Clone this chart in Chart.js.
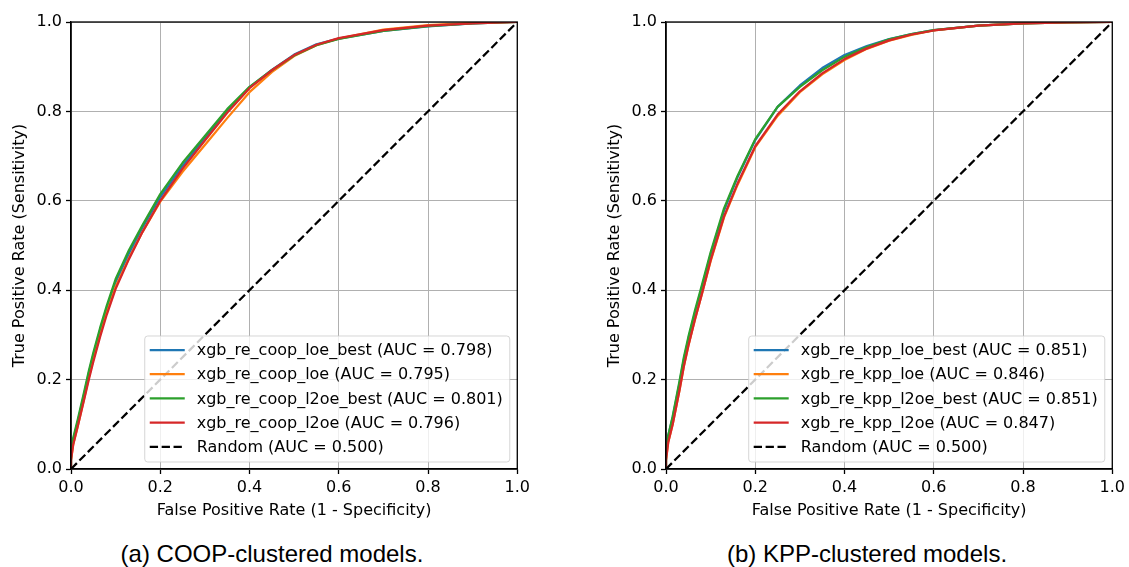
<!DOCTYPE html>
<html>
<head>
<meta charset="utf-8">
<script src="https://cdn.jsdelivr.net/npm/chart.js@4.4.1/dist/chart.umd.min.js"></script>
<style>
  html, body { margin: 0; padding: 0; background: #fff; }
  body { width: 1129px; height: 567px; position: relative; overflow: hidden; }
  canvas { position: absolute; top: 0; }
  #rocCoop { left: 0; }
  #rocKpp { left: 595px; }
  .caption {
    position: absolute; top: 542px;
    font: 24px/24px 'Liberation Sans', Arial, sans-serif;
    color: #000; white-space: nowrap; transform: translateX(-50%);
  }
</style>
</head>
<body>
<canvas id="rocCoop" width="534" height="530"></canvas>
<canvas id="rocKpp" width="534" height="530"></canvas>
<div class="caption" style="left:272px">(a) COOP-clustered models.</div>
<div class="caption" style="left:867px">(b) KPP-clustered models.</div>
<script>
  'use strict';

  // shared false positive rate grid for every ROC curve
  const fpr = [0, 0, 0.005, 0.015, 0.03, 0.04, 0.05, 0.065, 0.08, 0.1, 0.13, 0.16, 0.2, 0.25, 0.3, 0.35, 0.4, 0.45, 0.5, 0.55, 0.6, 0.7, 0.8, 0.9, 1.0];

  // COOP-clustered models (true positive rate)
  const coopLoeBest  = [0, 0.025, 0.065, 0.105, 0.17, 0.215, 0.255, 0.31, 0.36, 0.418, 0.482, 0.54, 0.608, 0.678, 0.74, 0.80, 0.854, 0.893, 0.927, 0.95, 0.963, 0.980, 0.990, 0.997, 1];
  const coopLoe      = [0, 0.02, 0.055, 0.095, 0.16, 0.205, 0.245, 0.30, 0.35, 0.408, 0.472, 0.53, 0.598, 0.665, 0.725, 0.785, 0.843, 0.888, 0.924, 0.948, 0.963, 0.983, 0.993, 0.998, 1];
  const coopL2oeBest = [0, 0.03, 0.07, 0.11, 0.175, 0.22, 0.26, 0.315, 0.365, 0.425, 0.49, 0.545, 0.615, 0.685, 0.745, 0.805, 0.855, 0.892, 0.925, 0.948, 0.962, 0.980, 0.991, 0.997, 1];
  const coopL2oe     = [0, 0.02, 0.055, 0.095, 0.158, 0.2, 0.24, 0.295, 0.345, 0.403, 0.47, 0.53, 0.60, 0.672, 0.735, 0.797, 0.852, 0.892, 0.926, 0.949, 0.964, 0.982, 0.992, 0.997, 1];
  const coopNames = ['xgb_re_coop_loe_best', 'xgb_re_coop_loe', 'xgb_re_coop_l2oe_best', 'xgb_re_coop_l2oe'];
  const coopAuc = [0.798, 0.795, 0.801, 0.796];

  // KPP-clustered models (true positive rate)
  const kppLoeBest  = [0, 0.03, 0.075, 0.115, 0.19, 0.245, 0.29, 0.35, 0.405, 0.48, 0.578, 0.652, 0.736, 0.81, 0.858, 0.897, 0.926, 0.946, 0.962, 0.973, 0.982, 0.992, 0.997, 0.999, 1];
  const kppLoe      = [0, 0.02, 0.06, 0.10, 0.175, 0.23, 0.275, 0.335, 0.39, 0.465, 0.563, 0.635, 0.72, 0.79, 0.843, 0.883, 0.915, 0.94, 0.958, 0.971, 0.981, 0.992, 0.997, 0.999, 1];
  const kppL2oeBest = [0, 0.03, 0.075, 0.118, 0.195, 0.25, 0.295, 0.355, 0.41, 0.485, 0.583, 0.655, 0.738, 0.81, 0.855, 0.892, 0.922, 0.944, 0.961, 0.973, 0.982, 0.992, 0.997, 0.999, 1];
  const kppL2oe     = [0, 0.02, 0.06, 0.10, 0.175, 0.23, 0.275, 0.335, 0.39, 0.467, 0.565, 0.638, 0.722, 0.793, 0.845, 0.885, 0.917, 0.941, 0.959, 0.972, 0.981, 0.992, 0.997, 0.999, 1];
  const kppNames = ['xgb_re_kpp_loe_best', 'xgb_re_kpp_loe', 'xgb_re_kpp_l2oe_best', 'xgb_re_kpp_l2oe'];
  const kppAuc = [0.851, 0.846, 0.851, 0.847];

  const randomLine = [0, 1];
  const randomAuc = 0.5;
  const axisTicks = [0, 0.2, 0.4, 0.6, 0.8, 1.0];

  const seriesColors = ['#1f77b4', '#ff7f0e', '#2ca02c', '#d62728'];

  Chart.defaults.font.family = '"DejaVu Sans", sans-serif';
  Chart.defaults.font.size = 16;
  Chart.defaults.color = '#000';

  // axes frame on all four sides + legend box in the lower right corner
  const frameAndLegend = {
    id: 'frameAndLegend',
    afterDatasetsDraw(chart) {
      const { ctx, chartArea: a } = chart;
      ctx.save();
      ctx.strokeStyle = '#000';
      ctx.lineWidth = 1.3;
      ctx.strokeRect(a.left, a.top, a.right - a.left, a.bottom - a.top);

      const items = chart.data.datasets;
      ctx.font = '16px "DejaVu Sans"';
      const textW = Math.max(...items.map(d => ctx.measureText(d.label).width));
      const w = 5 + 35 + 12 + textW + 7;
      const h = 126;
      const x0 = a.right - 7.5 - w;
      const y0 = a.bottom - 7 - h;

      ctx.beginPath();
      ctx.roundRect(x0, y0, w, h, 3);
      ctx.fillStyle = 'rgba(255,255,255,0.8)';
      ctx.fill();
      ctx.strokeStyle = 'rgba(204,204,204,0.8)';
      ctx.lineWidth = 1;
      ctx.stroke();

      items.forEach((d, i) => {
        const y = y0 + 14 + i * 24.2;
        ctx.beginPath();
        ctx.setLineDash(d.borderDash || []);
        ctx.strokeStyle = d.borderColor;
        ctx.lineWidth = d.borderWidth;
        ctx.moveTo(x0 + 5, y);
        ctx.lineTo(x0 + 40, y);
        ctx.stroke();
        ctx.setLineDash([]);
        ctx.fillStyle = '#000';
        ctx.textAlign = 'left';
        ctx.textBaseline = 'middle';
        ctx.fillText(d.label, x0 + 52, y + 1);
      });
      ctx.restore();
    }
  };

  function axisOptions(titleText, isX) {
    return {
      type: 'linear',
      min: 0,
      max: 1,
      afterBuildTicks: s => { s.ticks = axisTicks.map(value => ({ value })); },
      afterFit: s => {
        if (isX) s.height = 61; else s.width = 71;
      },
      ticks: {
        callback: v => v.toFixed(1),
        padding: isX ? 4 : 4,
        color: '#000',
        maxRotation: 0,
        autoSkip: false
      },
      grid: {
        color: '#b0b0b0',
        lineWidth: 1,
        tickColor: '#000',
        tickLength: 5,
        tickWidth: 1.3
      },
      border: { color: '#000', width: 1.3 },
      title: {
        display: true,
        text: titleText,
        color: '#000',
        padding: isX ? { top: 0, bottom: 10 } : { top: 10, bottom: 0 }
      }
    };
  }

  function buildRoc(canvasId, names, auc, series) {
    const datasets = series.map((tpr, i) => ({
      label: `${names[i]} (AUC = ${auc[i].toFixed(3)})`,
      data: fpr.map((x, j) => ({ x, y: tpr[j] })),
      borderColor: seriesColors[i],
      borderWidth: 2.25,
      order: 10 - i
    }));
    datasets.push({
      label: `Random (AUC = ${randomAuc.toFixed(3)})`,
      data: randomLine.map(v => ({ x: v, y: v })),
      borderColor: '#000',
      borderWidth: 2.25,
      borderDash: [8.3, 3.6],
      order: 0
    });
    datasets.forEach(d => {
      d.showLine = true;
      d.pointRadius = 0;
      d.tension = 0;
      d.fill = false;
      d.borderJoinStyle = 'round';
    });

    return new Chart(document.getElementById(canvasId), {
      type: 'scatter',
      data: { datasets },
      options: {
        responsive: false,
        animation: false,
        devicePixelRatio: 1,
        layout: { padding: { left: 0, top: 22, right: 14, bottom: 0 } },
        plugins: {
          legend: { display: false },
          tooltip: { enabled: false }
        },
        scales: {
          x: axisOptions('False Positive Rate (1 - Specificity)', true),
          y: axisOptions('True Positive Rate (Sensitivity)', false)
        }
      },
      plugins: [frameAndLegend]
    });
  }

  buildRoc('rocCoop', coopNames, coopAuc, [coopLoeBest, coopLoe, coopL2oeBest, coopL2oe]);
  buildRoc('rocKpp', kppNames, kppAuc, [kppLoeBest, kppLoe, kppL2oeBest, kppL2oe]);
</script>
</body>
</html>
